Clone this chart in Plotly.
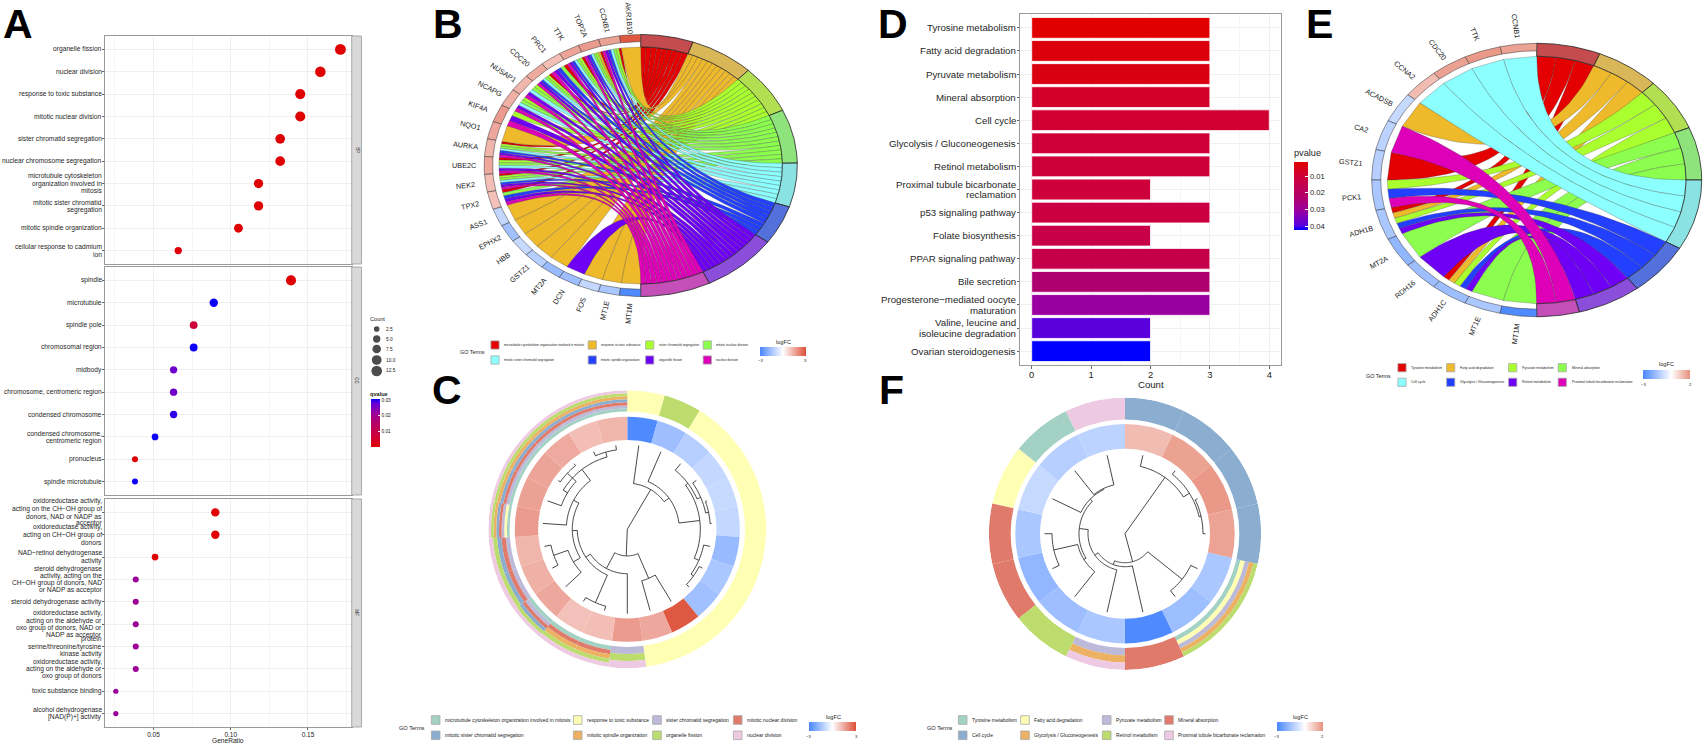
import math
import plotly.graph_objects as go

W, H = 1705, 745

# ---------- Panel A data ----------
A_BP_TERMS = ["organelle fission", "nuclear division", "response to toxic substance", "mitotic nuclear division",
              "sister chromatid segregation", "nuclear chromosome segregation",
              "microtubule cytoskeleton\norganization involved in\nmitosis", "mitotic sister chromatid\nsegregation",
              "mitotic spindle organization", "cellular response to cadmium\nion"]
A_BP_RATIO = [0.171, 0.158, 0.145, 0.145, 0.132, 0.132, 0.118, 0.118, 0.105, 0.066]
A_BP_COUNT = [13, 12, 11, 11, 10, 10, 9, 9, 8, 5]
A_BP_Q = [0.0005, 0.0005, 0.0005, 0.0005, 0.0005, 0.0005, 0.0005, 0.0005, 0.0005, 0.0012]

A_CC_TERMS = ["spindle", "microtubule", "spindle pole", "chromosomal region", "midbody",
              "chromosome, centromeric region", "condensed chromosome",
              "condensed chromosome,\ncentromeric region", "pronucleus", "spindle microtubule"]
A_CC_RATIO = [0.139, 0.089, 0.076, 0.076, 0.063, 0.063, 0.063, 0.051, 0.038, 0.038]
A_CC_COUNT = [11, 7, 6, 6, 5, 5, 5, 4, 3, 3]
A_CC_Q = [0.0005, 0.0303, 0.007, 0.0303, 0.0265, 0.0265, 0.0295, 0.0303, 0.0008, 0.0303]

A_MF_TERMS = ["oxidoreductase activity,\nacting on the CH\u2212OH group of\ndonors, NAD or NADP as\nacceptor",
              "oxidoreductase activity,\nacting on CH\u2212OH group of\ndonors",
              "NAD\u2212retinol dehydrogenase\nactivity",
              "steroid dehydrogenase\nactivity, acting on the\nCH\u2212OH group of donors, NAD\nor NADP as acceptor",
              "steroid dehydrogenase activity",
              "oxidoreductase activity,\nacting on the aldehyde or\noxo group of donors, NAD or\nNADP as acceptor",
              "protein\nserine/threonine/tyrosine\nkinase activity",
              "oxidoreductase activity,\nacting on the aldehyde or\noxo group of donors",
              "toxic substance binding", "alcohol dehydrogenase\n[NAD(P)+] activity"]
A_MF_RATIO = [0.090, 0.090, 0.051, 0.0385, 0.0385, 0.0385, 0.0385, 0.0385, 0.0256, 0.0256]
A_MF_COUNT = [7, 7, 4, 3, 3, 3, 3, 3, 2, 2]
A_MF_Q = [0.0004, 0.0004, 0.0006, 0.021, 0.021, 0.021, 0.021, 0.021, 0.0215, 0.0215]
A_X_TICKS = [0.05, 0.10, 0.15]
A_LEG_COUNT = [2.5, 5.0, 7.5, 10.0, 12.5]

# ---------- Panel D data ----------
D_TERMS = ["Tyrosine metabolism", "Fatty acid degradation", "Pyruvate metabolism", "Mineral absorption", "Cell cycle",
           "Glycolysis / Gluconeogenesis", "Retinol metabolism", "Proximal tubule bicarbonate\nreclamation",
           "p53 signaling pathway", "Folate biosynthesis", "PPAR signaling pathway", "Bile secretion",
           "Progesterone\u2212mediated oocyte\nmaturation", "Valine, leucine and\nisoleucine degradation",
           "Ovarian steroidogenesis"]
D_COUNT = [3, 3, 3, 3, 4, 3, 3, 2, 3, 2, 3, 3, 3, 2, 2]
D_P = [0.0016, 0.0036, 0.0045, 0.0085, 0.0095, 0.0105, 0.0108, 0.0112, 0.0125, 0.0135, 0.0145, 0.0235, 0.0305, 0.0395, 0.0424]

# ---------- Panels B and C data ----------
GO_TERM_NAMES = ["microtubule cytoskeleton organization involved in mitosis", "response to toxic substance",
                 "sister chromatid segregation", "mitotic nuclear division", "mitotic sister chromatid segregation",
                 "mitotic spindle organization", "organelle fission", "nuclear division"]
GO_MEMBERS = [
    ["CCNB1", "TOP2A", "TTK", "PRC1", "CDC20", "AURKA", "UBE2C", "NEK2", "TPX2"],
    ["AKR1B10", "TOP2A", "NQO1", "ASS1", "EPHX2", "HBB", "GSTZ1", "MT2A", "FOS", "MT1E", "MT1M"],
    ["CCNB1", "TOP2A", "TTK", "CDC20", "NUSAP1", "NCAPG", "KIF4A", "AURKA", "UBE2C", "NEK2"],
    ["CCNB1", "TOP2A", "TTK", "PRC1", "CDC20", "NUSAP1", "NCAPG", "AURKA", "UBE2C", "NEK2", "TPX2"],
    ["CCNB1", "TOP2A", "TTK", "CDC20", "NUSAP1", "NCAPG", "AURKA", "UBE2C", "NEK2"],
    ["CCNB1", "TOP2A", "TTK", "PRC1", "CDC20", "AURKA", "NEK2", "TPX2"],
    ["CCNB1", "TOP2A", "TTK", "PRC1", "CDC20", "NUSAP1", "NCAPG", "KIF4A", "AURKA", "UBE2C", "NEK2", "TPX2", "DCN"],
    ["CCNB1", "TOP2A", "TTK", "PRC1", "CDC20", "NUSAP1", "NCAPG", "KIF4A", "AURKA", "UBE2C", "NEK2", "TPX2"],
]
B_GENES = ["AKR1B10", "CCNB1", "TOP2A", "TTK", "PRC1", "CDC20", "NUSAP1", "NCAPG", "KIF4A", "NQO1", "AURKA", "UBE2C",
           "NEK2", "TPX2", "ASS1", "EPHX2", "HBB", "GSTZ1", "MT2A", "DCN", "FOS", "MT1E", "MT1M"]
C_LEAVES = ["MT1M", "DCN", "GSTZ1", "FOS", "HBB", "ASS1", "MT2A", "MT1E", "EPHX2", "AKR1B10", "NQO1", "KIF4A", "PRC1",
            "TPX2", "UBE2C", "NCAPG", "NUSAP1", "TOP2A", "CCNB1", "TTK", "CDC20", "NEK2", "AURKA"]
C_LOGFC = [-2.9, -1.6, -1.2, -1.0, -0.95, -1.0, -1.7, -1.4, -1.55, 2.85, 1.5, 1.7, 1.1, 1.05, 1.5, 1.35, 1.25, 1.7,
           1.6, 1.55, 1.45, 1.1, 1.25]
# dendrogram: (merge radius, child, child); integers are 1-based leaf positions
C_TREE = (0, (46, 1, (52, 2, (73, (76, 3, (80, 4, (83, 5, 6))), (78, 7, (81, 8, 9))))),
          (26.7, (53.6, 10, 11),
           (44.5, 12, (50, (80, 13, 14),
                       (55, (63, 15, (78, 16, 17)),
                        (61, 18, (75, (70, 19, (82, 20, 21)), (80, 22, 23))))))))

# ---------- Panels E and F data ----------
KEGG_TERM_NAMES = ["Tyrosine metabolism", "Fatty acid degradation", "Pyruvate metabolism", "Mineral absorption",
                   "Cell cycle", "Glycolysis / Gluconeogenesis", "Retinol metabolism",
                   "Proximal tubule bicarbonate reclamation"]
KEGG_MEMBERS = [
    ["GSTZ1", "ADH1B", "ADH1C"],
    ["ACADSB", "ADH1B", "ADH1C"],
    ["PCK1", "ADH1B", "ADH1C"],
    ["MT2A", "MT1E", "MT1M"],
    ["CCNB1", "TTK", "CDC20", "CCNA2"],
    ["PCK1", "ADH1B", "ADH1C"],
    ["ADH1B", "RDH16", "ADH1C"],
    ["CA2", "PCK1"],
]
E_GENES = ["CCNB1", "TTK", "CDC20", "CCNA2", "ACADSB", "CA2", "GSTZ1", "PCK1", "ADH1B", "MT2A", "RDH16", "ADH1C",
           "MT1E", "MT1M"]
F_LEAVES = ["CCNA2", "CDC20", "TTK", "CCNB1", "ADH1B", "ADH1C", "MT1M", "PCK1", "RDH16", "MT2A", "MT1E", "ACADSB",
            "GSTZ1", "CA2"]
F_LOGFC = [1.2, 1.7, 1.85, 1.68, -1.39, -1.62, -2.9, -1.39, -1.6, -1.8, -1.4, -0.95, -1.2, -1.1]
F_TREE = (0, (69, 1, (76, 2, (78, 3, 4))),
          (29, (73, 5, 6),
           (33, 7, (37, 8, (46, (48.5, 9, (73, 10, 11)), (49, 12, (50, 13, 14)))))))

# ---------- Colours ----------
CHORD_COLORS = ["#e40000", "#efb92c", "#aaff2e", "#8cff4e", "#8cffff", "#2440ff", "#6e00f5", "#de00b8"]
SECTOR_COLORS = ["#c44c4f", "#d9b657", "#b2de52", "#8fe37c", "#8ae2e2", "#5470da", "#8a4edb", "#c44fb8"]
CIRC_COLORS = ["#a3d2c4", "#ffffb3", "#bdb9d9", "#e07b6c", "#8badcf", "#ecb163", "#bcdc6e", "#eecae2"]
HEAT_SCALE = [[0, "#e00000"], [0.25, "#cc0040"], [0.53, "#b0006e"], [0.71, "#9a009f"], [0.93, "#5a00dd"], [1, "#0000ff"]]
HEAT_SCALE_REV = [[1 - p, c] for p, c in HEAT_SCALE][::-1]
FC_SCALE = [[0, "#4a86ff"], [0.5, "#ffffff"], [1, "#dc4f38"]]
FC_SCALE2 = [[0, "#4a86ff"], [0.6, "#ffffff"], [1, "#e8917e"]]


def scale_color(scale, t):
    t = max(0, min(1, t))
    for (p0, c0), (p1, c1) in zip(scale, scale[1:]):
        if t <= p1:
            f = (t - p0) / (p1 - p0)
            a = [int(c0[i:i + 2], 16) for i in (1, 3, 5)]
            b = [int(c1[i:i + 2], 16) for i in (1, 3, 5)]
            return "rgb(%d,%d,%d)" % tuple(round(u + (v - u) * f) for u, v in zip(a, b))
    return scale[-1][1]


fx = lambda x: x / W
fy = lambda y: 1 - y / H

fig = go.Figure()
layout = dict(width=W, height=H, autosize=False, margin=dict(l=0, r=0, t=0, b=0, pad=0), paper_bgcolor="white",
              plot_bgcolor="rgba(0,0,0,0)", showlegend=False, font=dict(family="Liberation Sans", color="#222"))
ann, shapes = [], []


def text(x, y, s, size, anchor="left", color="#222", bold=False, angle=0, xref="paper", yref="paper", yshift=0):
    ann.append(dict(x=x, y=y, xref=xref, yref=yref, text=("<b>%s</b>" % s) if bold else s, showarrow=False,
                    font=dict(size=size, color=color, family="Liberation Sans"), xanchor=anchor, yanchor="middle",
                    textangle=angle, borderpad=0, borderwidth=0, yshift=yshift))


def multi_label(lab, yval, yname, right_px, size, spacing):
    lines = lab.split("\n")
    for i, ln in enumerate(lines):
        text(fx(right_px), yval, ln, size, "right", "#262626", yref=yname,
             yshift=-(i - (len(lines) - 1) / 2) * spacing)


# ---------- Panel A ----------
A_PANELS = [(A_BP_TERMS, A_BP_RATIO, A_BP_COUNT, A_BP_Q, 36, 264, "BP"),
            (A_CC_TERMS, A_CC_RATIO, A_CC_COUNT, A_CC_Q, 267, 495, "CC"),
            (A_MF_TERMS, A_MF_RATIO, A_MF_COUNT, A_MF_Q, 499, 727, "MF")]
GRID = "#efefef"
dot_size = lambda c: 1.5 + 2.6 * math.sqrt(c)
for n, (terms, ratio, count, q, top, bot, strip) in enumerate(A_PANELS, 1):
    fig.add_trace(go.Scatter(x=ratio, y=list(range(10)), mode="markers", xaxis="x%d" % n, yaxis="y%d" % n,
                             hoverinfo="skip",
                             marker=dict(size=[dot_size(c) for c in count], color=q, coloraxis="coloraxis",
                                         line=dict(width=0), opacity=1)))
    last = n == 3
    layout["xaxis%d" % n] = dict(domain=[fx(105), fx(351.7)], range=[0.0186, 0.1783], anchor="y%d" % n,
                                 tickvals=A_X_TICKS, ticktext=["0.05", "0.10", "0.15"], showticklabels=last,
                                 ticks="outside" if last else "", ticklen=2, tickcolor="#666", tickwidth=0.6,
                                 ticklabelstandoff=-1,
                                 tickfont=dict(size=6.5, color="#222"), showgrid=True, gridcolor=GRID, gridwidth=0.7,
                                 minor=dict(tickvals=[0.025, 0.075, 0.125, 0.175], showgrid=True, gridcolor="#f6f6f6",
                                            gridwidth=0.5, ticks=""),
                                 zeroline=False, showline=True, mirror=True, linecolor="#9a9a9a", linewidth=1)
    layout["yaxis%d" % n] = dict(domain=[fy(bot), fy(top)], range=[9.6, -0.6], anchor="x%d" % n,
                                 tickvals=list(range(10)), showticklabels=False, ticks="outside", ticklen=2,
                                 tickcolor="#666", tickwidth=0.6, showgrid=True, gridcolor=GRID, gridwidth=0.7,
                                 zeroline=False, showline=True, mirror=True, linecolor="#9a9a9a", linewidth=1)
    for i, lab in enumerate(terms):
        multi_label(lab, i, "y%d" % n, 102.3, 6.7, 7.3)
    shapes.append(dict(type="rect", xref="paper", yref="paper", x0=fx(351.7), x1=fx(361.5), y0=fy(bot), y1=fy(top),
                       fillcolor="#d9d9d9", line=dict(color="#9a9a9a", width=0.8)))
    text(fx(356.7), fy((top + bot) / 2), strip, 4.6, "center", "#222", angle=90)
text(fx(228), fy(740), "GeneRatio", 6.6, "center")
text(fx(370), fy(318.5), "Count", 5.6, "left")
text(fx(370), fy(393.7), "qvalue", 5.6, "left", bold=True)
LEG_Y = [329, 339, 349, 360, 371]
fig.add_trace(go.Scatter(x=[376.7] * 5, y=LEG_Y, mode="markers", xaxis="x7", yaxis="y7", hoverinfo="skip",
                         marker=dict(size=[dot_size(c) for c in A_LEG_COUNT], color="black", line=dict(width=0))))
for c, y in zip(A_LEG_COUNT, LEG_Y):
    text(fx(386), fy(y), "%.1f" % c, 4.8)
layout["xaxis7"] = dict(domain=[0, 1], range=[0, W], visible=False, anchor="y7")
layout["yaxis7"] = dict(domain=[0, 1], range=[H, 0], visible=False, anchor="x7")
layout["coloraxis"] = dict(colorscale=HEAT_SCALE, cmin=0.0003, cmax=0.0306, colorbar=dict(
    x=fx(370.7), xanchor="left", y=fy(399), yanchor="top", len=48, lenmode="pixels", thickness=9.3,
    thicknessmode="pixels", xpad=0, ypad=0, outlinewidth=0, tickvals=[0.01, 0.02, 0.03],
    ticktext=["0.01", "0.02", "0.03"], ticks="inside", ticklen=2, tickcolor="white", tickwidth=0.5,
    tickfont=dict(size=4.8, color="#222")))

# ---------- Panel D ----------
fig.add_trace(go.Bar(x=D_COUNT, y=list(range(15)), orientation="h", width=0.9, xaxis="x4", yaxis="y4", hoverinfo="skip",
                     marker=dict(color=[-p for p in D_P], coloraxis="coloraxis2", line=dict(color="white", width=0.8))))
layout["xaxis4"] = dict(domain=[fx(1020), fx(1281)], range=[-0.197, 4.197], anchor="y4", tickvals=[0, 1, 2, 3, 4],
                        ticks="outside", ticklen=2.5, tickcolor="#666", tickwidth=0.7, ticklabelstandoff=-2,
                        tickfont=dict(size=9.4, color="#222"), showgrid=True, gridcolor=GRID, gridwidth=0.8,
                        minor=dict(tickvals=[0.5, 1.5, 2.5, 3.5], showgrid=True, gridcolor="#f6f6f6", gridwidth=0.5,
                                   ticks=""),
                        zeroline=False, showline=True, mirror=True, linecolor="#9a9a9a", linewidth=1)
layout["yaxis4"] = dict(domain=[fy(365), fy(14)], range=[14.6, -0.6], anchor="x4", tickvals=list(range(15)),
                        showticklabels=False, ticks="outside", ticklen=2.5, tickcolor="#666", tickwidth=0.7,
                        showgrid=True, gridcolor=GRID, gridwidth=0.8, zeroline=False, showline=True, mirror=True,
                        linecolor="#9a9a9a", linewidth=1)
for i, lab in enumerate(D_TERMS):
    multi_label(lab, i, "y4", 1016, 9.7, 10.3)
text(fx(1150.7), fy(384), "Count", 9.6, "center")
text(fx(1294), fy(153.5), "pvalue", 9.2)
layout["coloraxis2"] = dict(colorscale=HEAT_SCALE_REV, cmin=-0.0424, cmax=-0.0016, colorbar=dict(
    x=fx(1294), xanchor="left", y=fy(162), yanchor="top", len=68, lenmode="pixels", thickness=13.5,
    thicknessmode="pixels", xpad=0, ypad=0, outlinewidth=0, tickvals=[-0.01, -0.02, -0.03, -0.04],
    ticktext=["0.01", "0.02", "0.03", "0.04"], ticks="inside", ticklen=2.5, tickcolor="white", tickwidth=0.5,
    tickfont=dict(size=7.6, color="#222")))


# ---------- Chord panels ----------
def ring_xy(r0, r1, a0, a1, n=24):
    pts = [a0 + (a1 - a0) * i / n for i in range(n + 1)]
    xs = [r1 * math.sin(math.radians(a)) for a in pts] + [r0 * math.sin(math.radians(a)) for a in pts[::-1]]
    ys = [r1 * math.cos(math.radians(a)) for a in pts] + [r0 * math.cos(math.radians(a)) for a in pts[::-1]]
    return xs + xs[:1], ys + ys[:1]


def bezier(a0, a1, R=0.905, n=36):
    p0 = (R * math.sin(math.radians(a0)), R * math.cos(math.radians(a0)))
    p1 = (R * math.sin(math.radians(a1)), R * math.cos(math.radians(a1)))
    ts = [i / n for i in range(n + 1)]
    return [(1 - t) ** 2 * p0[0] + t ** 2 * p1[0] for t in ts], [(1 - t) ** 2 * p0[1] + t ** 2 * p1[1] for t in ts]


def chord(genes, members, fc, scale, cmin, cmax, ax, cx, cy, rx, ry, right_lim, caxis):
    xa, ya = "x%d" % ax, "y%d" % ax
    layout["xaxis%d" % ax] = dict(domain=[fx(cx - 1.2 * rx), fx(cx + right_lim * rx)], range=[-1.2, right_lim],
                                  visible=False, anchor="y%d" % ax, fixedrange=True)
    layout["yaxis%d" % ax] = dict(domain=[fy(cy + 1.2 * ry), fy(cy - 1.2 * ry)], range=[-1.2, 1.2], visible=False,
                                  anchor="x%d" % ax, fixedrange=True)
    total = sum(len(m) for m in members)
    dt = 180 / total
    dg = 180 / len(genes)
    gene_terms = {g: [k for k, m in enumerate(members) if g in m] for g in genes}
    start = 0
    bounds = []
    for k, m in enumerate(members):
        bounds.append((start, start + dt * len(m)))
        ordered = [g for g in genes if g in m]
        for j, g in enumerate(ordered):
            t0, t1 = start + j * dt, start + (j + 1) * dt
            gi = genes.index(g)
            w = dg / len(gene_terms[g])
            pos = gene_terms[g].index(k)
            g_top = -(gi * dg + pos * w)
            g_bot = g_top - w
            x1, y1 = bezier(t0, g_top)
            x2, y2 = bezier(t1, g_bot)
            xs = x1 + x2[::-1] + x1[:1]
            ys = y1 + y2[::-1] + y1[:1]
            fig.add_trace(go.Scatter(x=xs, y=ys, mode="lines", fill="toself", fillcolor=CHORD_COLORS[k],
                                     line=dict(color="rgba(60,60,60,0.7)", width=0.4), xaxis=xa, yaxis=ya,
                                     hoverinfo="skip"))
        start += dt * len(m)
    for k, (a0, a1) in enumerate(bounds):
        xs, ys = ring_xy(0.905, 1.0, a0, a1)
        fig.add_trace(go.Scatter(x=xs, y=ys, mode="lines", fill="toself", fillcolor=SECTOR_COLORS[k],
                                 line=dict(color="#222", width=0.8), xaxis=xa, yaxis=ya, hoverinfo="skip"))
    for gi, g in enumerate(genes):
        a0, a1 = -gi * dg, -(gi + 1) * dg
        val = fc[g]
        xs, ys = ring_xy(0.945, 1.0, a0, a1, 10)
        fig.add_trace(go.Scatter(x=xs, y=ys, mode="lines", fill="toself",
                                 fillcolor=scale_color(scale, (val - cmin) / (cmax - cmin)),
                                 line=dict(color="#333", width=0.5), xaxis=xa, yaxis=ya, hoverinfo="skip"))
        mid = math.radians((a0 + a1) / 2)
        ang = math.degrees(math.atan2(math.cos(mid) * ry, abs(math.sin(mid)) * rx))
        text(1.13 * math.sin(mid), 1.13 * math.cos(mid), g, 7.3, "center", "#1a1a1a", angle=ang, xref=xa, yref=ya)
    # invisible points tie the gene values to the logFC colour bar
    fig.add_trace(go.Scatter(x=[0] * len(genes), y=[0] * len(genes), mode="markers", xaxis=xa, yaxis=ya,
                             hoverinfo="skip",
                             marker=dict(size=1, opacity=0, color=[fc[g] for g in genes], coloraxis=caxis)))


C_FC = dict(zip(C_LEAVES, C_LOGFC))
F_FC = dict(zip(F_LEAVES, F_LOGFC))


def fc_axis(scale, cmin, cmax, x0, x1, ytop, labels):
    return dict(colorscale=scale, cmin=cmin, cmax=cmax, colorbar=dict(
        orientation="h", x=fx(x0), xanchor="left", y=fy(ytop), yanchor="top", len=x1 - x0, lenmode="pixels",
        thickness=9.3, thicknessmode="pixels", xpad=0, ypad=0, outlinewidth=0, tickvals=[cmin, cmax],
        ticktext=labels, ticks="", showticklabels=False))


chord(B_GENES, GO_MEMBERS, C_FC, FC_SCALE, -3, 3, 5, 640.7, 165.5, 156.6, 131, 1.2, "coloraxis3")
chord(E_GENES, KEGG_MEMBERS, F_FC, FC_SCALE2, -3, 2, 6, 1536.7, 180, 165, 136.7, 1.02, "coloraxis4")
layout["coloraxis3"] = fc_axis(FC_SCALE, -3, 3, 760, 805.7, 347.3, ["\u22123", "3"])
layout["coloraxis4"] = fc_axis(FC_SCALE2, -3, 2, 1643.3, 1690.7, 370, ["\u22123", "2"])
layout["coloraxis5"] = fc_axis(FC_SCALE, -3, 3, 808.7, 856, 722.3, ["\u22123", "3"])
layout["coloraxis6"] = fc_axis(FC_SCALE2, -3, 2, 1276.7, 1322.7, 722.3, ["\u22123", "2"])
for (tx, ty, x0, x1, ly, lab2) in [(783, 341.7, 760, 805.7, 360, "3"), (1666.7, 364, 1643.3, 1690.7, 384, "2"),
                                   (833, 716.7, 808.7, 856, 736.2, "3"), (1300, 716.7, 1276.7, 1322.7, 736.2, "2")]:
    text(fx(tx), fy(ty), "logFC", 5.6, "center")
    text(fx(x0), fy(ly), "\u22123", 4.2, "center")
    text(fx(x1), fy(ly), lab2, 4.2, "center")


# ---------- Circular panels ----------
def tree_lines(node, step):
    rs, ts = [], []

    def walk(nd):
        if isinstance(nd, int):
            return (nd - 0.5) * step, LEAF_R
        r, a, b = nd
        ta, ra = walk(a)
        tb, rb = walk(b)
        for t, rr in ((ta, ra), (tb, rb)):
            rs.extend([r, rr, None])
            ts.extend([t, t, None])
        k = max(2, int(abs(tb - ta) / 2))
        for i in range(k + 1):
            rs.append(r)
            ts.append(ta + (tb - ta) * i / k)
        rs.append(None)
        ts.append(None)
        return (ta + tb) / 2, r

    walk(node)
    return rs, ts


LEAF_R = 84.5


def circular(leaves, fc, members, tree, name, cx, cy, R_out, r_outer_in, r_fc_out, r_fc_in, caxis, leaf_r):
    global LEAF_R
    LEAF_R = leaf_r
    step = 360 / len(leaves)
    gene_terms = {g: [k for k, m in enumerate(members) if g in m] for g in leaves}
    for k in range(len(members)):
        th, rr, base = [], [], []
        for i, g in enumerate(leaves):
            if k in gene_terms[g]:
                w = (R_out - r_outer_in) / len(gene_terms[g])
                th.append((i + 0.5) * step)
                rr.append(w)
                base.append(r_outer_in + gene_terms[g].index(k) * w)
        fig.add_trace(go.Barpolar(theta=th, r=rr, base=base, width=[step] * len(th), subplot=name, hoverinfo="skip",
                                  marker=dict(color=CIRC_COLORS[k], line=dict(width=0))))
    fig.add_trace(go.Barpolar(theta=[(i + 0.5) * step for i in range(len(leaves))],
                              r=[r_fc_out - r_fc_in] * len(leaves), base=[r_fc_in] * len(leaves),
                              width=[step] * len(leaves), subplot=name, hoverinfo="skip",
                              marker=dict(color=[fc[g] for g in leaves], coloraxis=caxis, line=dict(width=0))))
    rs, ts = tree_lines(tree, step)
    fig.add_trace(go.Scatterpolar(r=rs, theta=ts, mode="lines", subplot=name, hoverinfo="skip",
                                  line=dict(color="#333", width=0.9), connectgaps=False))
    layout[name] = dict(domain=dict(x=[fx(cx - R_out), fx(cx + R_out)], y=[fy(cy + R_out), fy(cy - R_out)]),
                        bgcolor="rgba(0,0,0,0)", barmode="overlay",
                        radialaxis=dict(visible=False, range=[0, R_out]),
                        angularaxis=dict(visible=False, rotation=90, direction="clockwise"))


circular(C_LEAVES, C_FC, GO_MEMBERS, C_TREE, "polar", 627.3, 529.2, 139, 117.7, 112.5, 89.2, "coloraxis5", 84.5)
circular(F_LEAVES, F_FC, KEGG_MEMBERS, F_TREE, "polar2", 1125, 533.7, 136.2, 114.3, 109.7, 85, "coloraxis6", 80.5)


# ---------- GO-term legends ----------
def term_legend(names, colors, key_x, rows, text_off, key_size, size, title_x, title_y, title_size):
    for i, nm in enumerate(names):
        col, row = i % 4, i // 4
        x, y = key_x[col], rows[row]
        shapes.append(dict(type="rect", xref="paper", yref="paper", x0=fx(x - key_size / 2), x1=fx(x + key_size / 2),
                           y0=fy(y + key_size / 2), y1=fy(y - key_size / 2), fillcolor=colors[i],
                           line=dict(color="#a8a8a8", width=0.8)))
        text(fx(x + text_off), fy(y), nm, size)
    text(fx(title_x), fy(title_y), "GO Terms", title_size, "center")


term_legend(GO_TERM_NAMES, CHORD_COLORS, [495, 592.3, 649.7, 707.3], [345, 360], 9, 8.2, 3.2, 472.7, 352.3, 5.4)
term_legend(KEGG_TERM_NAMES, CHORD_COLORS, [1402, 1450.7, 1512.7, 1562.3], [367.7, 382.3], 9.3, 8.2, 3.4, 1378.7,
            375.7, 5.4)
term_legend(GO_TERM_NAMES, CIRC_COLORS, [435.7, 577.7, 657, 737.7], [720, 735.3], 9.3, 8.6, 5, 412, 727.5, 5.6)
term_legend(KEGG_TERM_NAMES, CIRC_COLORS, [962.7, 1025, 1106.7, 1169], [720, 735.3], 9.3, 8.6, 4.9, 940, 728, 5.6)

# ---------- Panel letters ----------
for s, x, y in [("A", 3, 24), ("B", 433, 24), ("C", 432, 390), ("D", 878, 24), ("E", 1306, 24), ("F", 879, 390)]:
    text(fx(x), fy(y), s, 41, "left", "black", bold=True)

layout["annotations"] = ann
layout["shapes"] = shapes
fig.update_layout(**layout)
fig.write_html("out.html", config={"displayModeBar": False}, post_script="document.body.style.margin='0';")
